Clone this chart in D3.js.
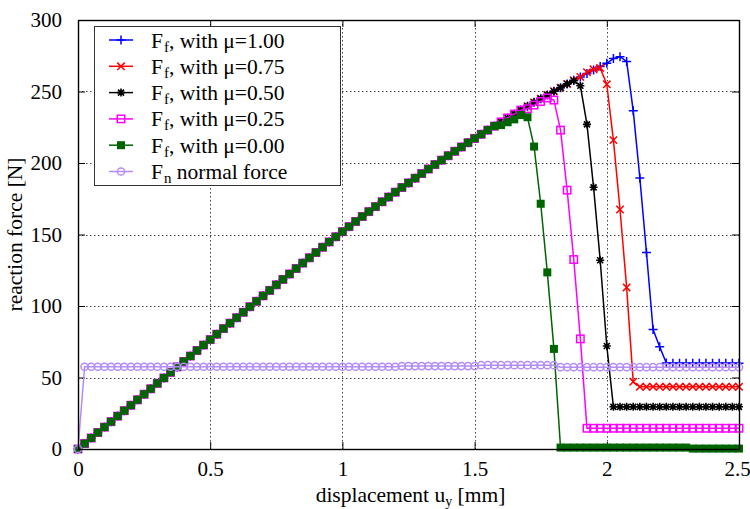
<!DOCTYPE html>
<html>
<head>
<meta charset="utf-8">
<script src="https://cdn.jsdelivr.net/npm/d3@7"></script>
<style>
  body { margin: 0; background: #fff; }
  text { font-family: "Liberation Serif", "Times New Roman", serif; fill: #000; }
</style>
</head>
<body>
<div id="chart"></div>
<script>
// chart size
var width = 750,
    height = 509;

// displacement u_y [mm], one value per load step
var displacement = [
  0, 0.025, 0.05, 0.075, 0.1, 0.125, 0.15, 0.175, 0.2, 0.225,
  0.25, 0.275, 0.3, 0.325, 0.35, 0.375, 0.4, 0.425, 0.45, 0.475,
  0.5, 0.525, 0.55, 0.575, 0.6, 0.625, 0.65, 0.675, 0.7, 0.725,
  0.75, 0.775, 0.8, 0.825, 0.85, 0.875, 0.9, 0.925, 0.95, 0.975,
  1, 1.025, 1.05, 1.075, 1.1, 1.125, 1.15, 1.175, 1.2, 1.225,
  1.25, 1.275, 1.3, 1.325, 1.35, 1.375, 1.4, 1.425, 1.45, 1.475,
  1.5, 1.525, 1.55, 1.575, 1.6, 1.625, 1.65, 1.675, 1.7, 1.725,
  1.75, 1.775, 1.8, 1.825, 1.85, 1.875, 1.9, 1.925, 1.95, 1.975,
  2, 2.025, 2.05, 2.075, 2.1, 2.125, 2.15, 2.175, 2.2, 2.225,
  2.25, 2.275, 2.3, 2.325, 2.35, 2.375, 2.4, 2.425, 2.45, 2.475,
  2.5
];

// common loading branch (same for every mu until it softens)
var loading = [
  0, 3.8, 7.7, 11.5, 15.3, 19.1, 23.0, 26.8, 30.6, 34.4,
  38.3, 42.1, 45.9, 49.7, 53.6, 57.4, 61.2, 65.0, 68.9, 72.7,
  76.5, 80.3, 84.2, 88.0, 91.8, 95.6, 99.5, 103.3, 107.1, 110.9,
  114.8, 118.6, 122.4, 126.2, 130.0, 133.7, 137.4, 141.1, 144.8, 148.4,
  152.0, 155.5, 159.1, 162.6, 166.0, 169.5, 172.9, 176.2, 179.6, 182.9,
  186.1, 189.4, 192.6, 195.8, 198.9, 202.0, 205.1, 208.2, 211.2, 214.2,
  217.2, 220.1, 223.0, 225.8, 228.7, 231.5, 234.2, 237.0, 239.7, 242.4,
  245.0, 247.6, 250.2, 252.7, 255.3, 257.8, 260.2, 262.6, 265.0, 267.4,
  269.7, 272.0
];

// each friction case: the loading branch up to a step, then its own values
var tailMu100 = [273, 274.3, 271, 236.5, 189.5, 137.5, 83.5, 71.5, 60.2,
  60, 60, 60, 60, 60, 60, 60, 60, 60, 60, 60];
var tailMu075 = [263.5, 265.5, 266.5, 255, 216, 167.5, 113, 47,
  43.5, 43.5, 43.5, 43.5, 43.5, 43.5, 43.5, 43.5,
  43.5, 43.5, 43.5, 43.5, 43.5, 43.5, 43.5, 43.5];
var tailMu050 = [257.5, 254, 227, 183, 132, 72,
  29.5, 29.5, 29.5, 29.5, 29.5, 29.5, 29.5, 29.5, 29.5, 29.5,
  29.5, 29.5, 29.5, 29.5, 29.5, 29.5, 29.5, 29.5, 29.5, 29.5];
var tailMu025 = [238, 240.5, 243, 245.5, 244, 223, 181, 132.5, 77,
  14.5, 14.5, 14.5, 14.5, 14.5, 14.5, 14.5, 14.5, 14.5, 14.5, 14.5, 14.5,
  14.5, 14.5, 14.5, 14.5, 14.5, 14.5, 14.5, 14.5, 14.5, 14.5, 14.5, 14.5];
var tailMu000 = [226.5, 228.5, 230.5, 233.5, 232, 211.5, 171.5, 123.5, 70,
  1, 1, 1, 1, 1, 1, 1, 1, 1, 1, 1, 1, 1, 1, 1, 1, 1, 1, 1, 1,
  0.3, 0.3, 0.3, 0.3, 0.3, 0.3, 0.3, 0.3];

var forceMu100 = loading.slice(0, 81).concat(tailMu100);
var forceMu075 = loading.slice(0, 77).concat(tailMu075);
var forceMu050 = loading.slice(0, 75).concat(tailMu050);
var forceMu025 = loading.slice(0, 68).concat(tailMu025);
var forceMu000 = loading.slice(0, 64).concat(tailMu000);

// normal force F_n
var normalForce = [
  0,
  57.5, 57.5, 57.5, 57.5, 57.5, 57.5, 57.5, 57.5, 57.5, 57.5, 57.5, 57.5,
  57.5, 57.5, 57.5, 57.5, 57.5, 57.5, 57.5, 57.5, 57.5, 57.5, 57.5, 57.5,
  57.5, 57.5, 57.5, 57.5, 57.5, 57.5, 57.5, 57.5, 57.5, 57.5, 57.5, 57.5,
  57.5, 57.5, 57.5, 57.5, 57.5, 57.5, 57.5, 57.5, 57.5, 57.5, 57.5, 57.5,
  58.0, 58.0, 58.0, 58.0, 58.0, 58.0, 58.0, 58.0, 58.0, 58.0, 58.0, 58.0,
  58.6, 58.6, 58.6, 58.6, 58.6, 58.6, 58.6, 58.6, 58.6, 58.6, 58.6, 58.6,
  57.2, 57.2, 57.2, 57.2, 57.2, 57.2, 57.2, 57.2, 57.2, 57.2, 57.2, 57.2, 57.2, 57.2,
  57.2, 57.2, 57.2, 57.2, 57.2, 57.2, 57.2, 57.2, 57.2, 57.2, 57.2, 57.2, 57.2, 57.2
];

var seriesNames = ["mu100", "mu075", "mu050", "mu025", "mu000", "normal"];
var seriesMu = ["1.00", "0.75", "0.50", "0.25", "0.00", null];
var seriesValues = [forceMu100, forceMu075, forceMu050, forceMu025, forceMu000, normalForce];
var seriesColors = ["#0000ff", "#ff0000", "#000000", "#ff00ff", "#006400", "#b48cf8"];
var seriesMarkers = ["plus", "cross", "star", "square", "fsquare", "circle"];

var xTicks = [0, 0.5, 1, 1.5, 2, 2.5];
var yTicks = [0, 50, 100, 150, 200, 250, 300];

// plot box
var plotLeft = 78, plotRight = 739, plotTop = 20, plotBottom = 449;
var fontSize = "21px";

var svg = d3.select("#chart").append("svg")
    .attr("width", width)
    .attr("height", height);

var x = d3.scaleLinear().domain([0, 2.5]).range([plotLeft, plotRight]);
var y = d3.scaleLinear().domain([0, 300]).range([plotBottom, plotTop]);

// grid lines (interior ticks only)
var grid = svg.append("g")
    .attr("stroke", "#444")
    .attr("stroke-width", 1)
    .attr("stroke-dasharray", "1.5,2.5");
grid.selectAll(".gx")
  .data(xTicks.slice(1, -1))
  .enter().append("line")
    .attr("x1", function(d) { return Math.round(x(d)) + 0.5; })
    .attr("x2", function(d) { return Math.round(x(d)) + 0.5; })
    .attr("y1", plotTop)
    .attr("y2", plotBottom);
grid.selectAll(".gy")
  .data(yTicks.slice(1, -1))
  .enter().append("line")
    .attr("y1", function(d) { return Math.round(y(d)) + 0.5; })
    .attr("y2", function(d) { return Math.round(y(d)) + 0.5; })
    .attr("x1", plotLeft)
    .attr("x2", plotRight);

// axes, ticks pointing inward on all four sides
function styleAxis(g) {
  g.select(".domain").remove();
  g.selectAll(".tick line").attr("stroke", "#000").attr("stroke-width", 1);
  g.selectAll(".tick text")
    .style("font-family", "'Liberation Serif', serif")
    .style("font-size", fontSize)
    .attr("fill", "#000");
}

var xAxisG = svg.append("g")
    .attr("transform", "translate(0," + plotBottom + ")")
    .call(d3.axisBottom(x).tickValues(xTicks).tickSize(-7).tickPadding(12)
      .tickFormat(function(d) { return d; }))
    .call(styleAxis);
// keep the last label inside the picture
xAxisG.selectAll(".tick text")
  .filter(function(d) { return d === 2.5; })
  .attr("dx", -2);

svg.append("g")
    .attr("transform", "translate(0," + plotTop + ")")
    .call(d3.axisTop(x).tickValues(xTicks).tickSize(-7).tickFormat(""))
    .call(styleAxis);
svg.append("g")
    .attr("transform", "translate(" + plotLeft + ",0)")
    .call(d3.axisLeft(y).tickValues(yTicks).tickSize(-7).tickPadding(16))
    .call(styleAxis);
svg.append("g")
    .attr("transform", "translate(" + plotRight + ",0)")
    .call(d3.axisRight(y).tickValues(yTicks).tickSize(-7).tickFormat(""))
    .call(styleAxis);

// marker shapes
function drawMarker(g, type, color) {
  var s = 4.5;
  if (type === "plus") {
    g.append("path").attr("d", "M" + (-s) + ",0H" + s + "M0," + (-s) + "V" + s)
      .attr("stroke", color).attr("stroke-width", 1.5).attr("fill", "none");
  } else if (type === "cross") {
    g.append("path").attr("d", "M-3.7,-3.7L3.7,3.7M-3.7,3.7L3.7,-3.7")
      .attr("stroke", color).attr("stroke-width", 1.5).attr("fill", "none");
  } else if (type === "star") {
    g.append("path").attr("d", "M-4,0H4M0,-4V4M-3,-3L3,3M-3,3L3,-3")
      .attr("stroke", color).attr("stroke-width", 1.6).attr("fill", "none");
  } else if (type === "square") {
    g.append("rect").attr("x", -3.7).attr("y", -3.7).attr("width", 7.4).attr("height", 7.4)
      .attr("stroke", color).attr("stroke-width", 1.5).attr("fill", "none");
  } else if (type === "fsquare") {
    g.append("rect").attr("x", -4).attr("y", -4).attr("width", 8).attr("height", 8)
      .attr("fill", color);
  } else if (type === "circle") {
    g.append("circle").attr("r", 3.6)
      .attr("stroke", color).attr("stroke-width", 1.5).attr("fill", "none");
  }
}

var line = d3.line()
    .x(function(d) { return x(d[0]); })
    .y(function(d) { return y(d[1]); });

var plot = svg.append("g");
seriesValues.forEach(function(values, k) {
  var pts = values.map(function(v, i) { return [displacement[i], v]; });
  var g = plot.append("g").attr("class", seriesNames[k]);
  g.append("path")
    .attr("d", line(pts))
    .attr("fill", "none")
    .attr("stroke", seriesColors[k])
    .attr("stroke-width", 1.5);
  pts.forEach(function(p) {
    var m = g.append("g").attr("transform", "translate(" + x(p[0]) + "," + y(p[1]) + ")");
    drawMarker(m, seriesMarkers[k], seriesColors[k]);
  });
});

// frame
svg.append("rect")
    .attr("x", plotLeft + 0.5)
    .attr("y", plotTop + 0.5)
    .attr("width", plotRight - plotLeft)
    .attr("height", plotBottom - plotTop)
    .attr("fill", "none")
    .attr("stroke", "#000")
    .attr("stroke-width", 1.4);

// legend
var legend = svg.append("g");
legend.append("rect")
    .attr("x", 94.5).attr("y", 26.5)
    .attr("width", 246).attr("height", 159)
    .attr("fill", "#fff")
    .attr("stroke", "#333")
    .attr("stroke-width", 1);

seriesNames.forEach(function(name, k) {
  var yy = 40 + k * 26.3;
  legend.append("line")
    .attr("x1", 109).attr("x2", 133)
    .attr("y1", yy).attr("y2", yy)
    .attr("stroke", seriesColors[k])
    .attr("stroke-width", 1.5);
  drawMarker(legend.append("g").attr("transform", "translate(121," + yy + ")"),
    seriesMarkers[k], seriesColors[k]);
  var t = legend.append("text")
    .attr("x", 151).attr("y", yy).attr("dy", "0.35em")
    .style("font-size", "21.5px");
  t.append("tspan").text("F");
  if (seriesMu[k] !== null) {
    t.append("tspan").attr("dx", 1).attr("dy", 4).style("font-size", "15px").text("f");
    t.append("tspan").attr("dy", -4).text(", with \u03bc=" + seriesMu[k]);
  } else {
    t.append("tspan").attr("dx", 1).attr("dy", 4).style("font-size", "15px").text("n");
    t.append("tspan").attr("dy", -4).text(" normal force");
  }
});

// axis titles
var xTitle = svg.append("text")
    .attr("x", (plotLeft + plotRight) / 2 + 2)
    .attr("y", 502)
    .attr("text-anchor", "middle")
    .style("font-size", "21.5px");
xTitle.append("tspan").text("displacement u");
xTitle.append("tspan").attr("dy", 4).style("font-size", "14px").text("y");
xTitle.append("tspan").attr("dy", -4).text(" [mm]");

svg.append("text")
    .attr("transform", "translate(22," + ((plotTop + plotBottom) / 2) + ") rotate(-90)")
    .attr("text-anchor", "middle")
    .style("font-size", "21.5px")
    .text("reaction force [N]");
</script>
</body>
</html>
